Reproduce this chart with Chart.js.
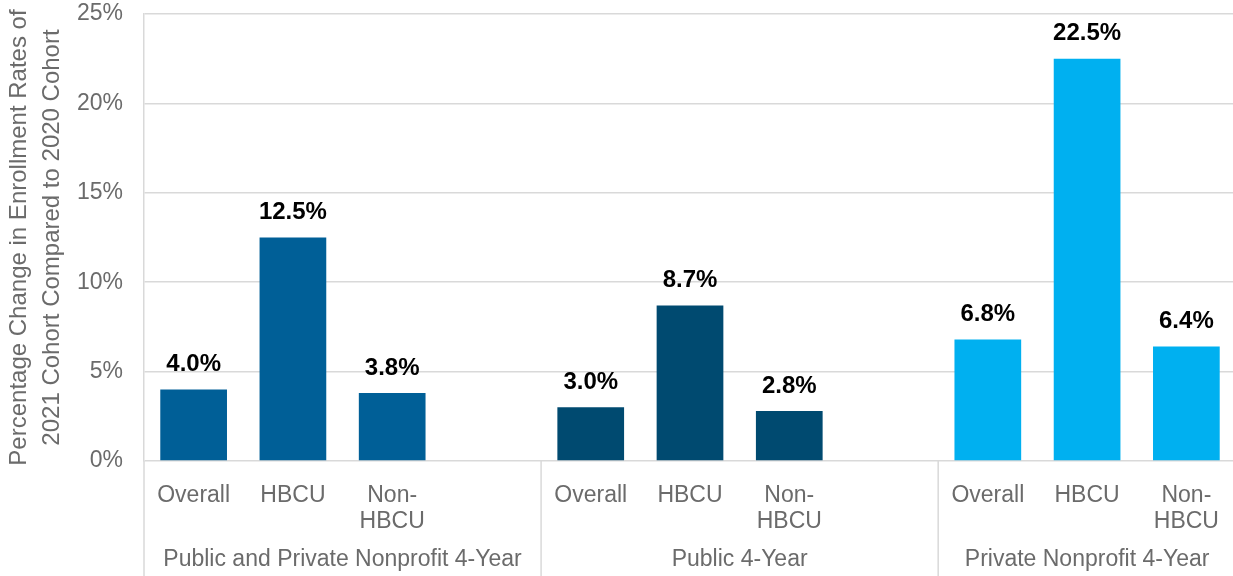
<!DOCTYPE html>
<html>
<head>
<meta charset="utf-8">
<script src="https://cdn.jsdelivr.net/npm/chart.js@4.4.1/dist/chart.umd.min.js"></script>
<style>
    html, body { margin: 0; padding: 0; background: #ffffff; overflow: hidden; }
    #enrollChart { display: block; }
</style>
</head>
<body>
<canvas id="enrollChart" width="1236" height="576"></canvas>
<script>
// institution groups and the bars inside each
const groups = ['Public and Private Nonprofit 4-Year', 'Public 4-Year', 'Private Nonprofit 4-Year'];
const subLabels = ['Overall', 'HBCU', ['Non-', 'HBCU']];

// percentage change, 2021 cohort vs 2020 cohort
const combinedValues = [4.0, 12.5, 3.8];
const publicValues = [3.0, 8.7, 2.8];
const privateValues = [6.8, 22.5, 6.4];

const yTicks = [0, 5, 10, 15, 20, 25];

const groupColors = ['#005F97', '#004A70', '#00B0F0'];
const fontFamily = '"Liberation Sans", Arial, sans-serif';
const grayText = '#6b6b6b';
const lineGray = '#d9d9d9';

// build the flat category axis: each group's bars, then a blank spacer (not after the last one)
let labels = [];
let data = [];
let colors = [];
let groupSlots = [];
[combinedValues, publicValues, privateValues].forEach((values, g) => {
    const start = labels.length;
    values.forEach((v, i) => {
        labels.push(subLabels[i]);
        data.push(v);
        colors.push(groupColors[g]);
    });
    if (g < groups.length - 1) {
        labels.push('');
        data.push(null);
        colors.push('rgba(0,0,0,0)');
    }
    groupSlots.push([start, labels.length - 1]);
});

// bold value labels over each bar
const valueLabelPlugin = {
    id: 'valueLabelPlugin',
    afterDatasetsDraw(chart) {
        const { ctx } = chart;
        const meta = chart.getDatasetMeta(0);
        ctx.save();
        ctx.font = 'bold 24px ' + fontFamily;
        ctx.fillStyle = '#000000';
        ctx.textAlign = 'center';
        ctx.textBaseline = 'middle';
        meta.data.forEach((bar, i) => {
            const v = data[i];
            if (v === null) return;
            ctx.fillText(v.toFixed(1) + '%', bar.x, bar.y - 25);
        });
        ctx.restore();
    }
};

// second level of the category axis: group names and divider lines
const groupAxisPlugin = {
    id: 'groupAxisPlugin',
    afterDraw(chart) {
        const { ctx, chartArea } = chart;
        const xScale = chart.scales.x;
        const half = (xScale.getPixelForValue(1) - xScale.getPixelForValue(0)) / 2;
        const bottom = chart.height;

        ctx.save();
        ctx.strokeStyle = lineGray;
        ctx.lineWidth = 1.5;
        // left axis continues down through the label rows
        ctx.beginPath();
        ctx.moveTo(chartArea.left, chartArea.bottom);
        ctx.lineTo(chartArea.left, bottom);
        ctx.stroke();

        ctx.font = '23px ' + fontFamily;
        ctx.fillStyle = grayText;
        ctx.textAlign = 'center';
        ctx.textBaseline = 'middle';
        groupSlots.forEach(([first, last], g) => {
            const left = xScale.getPixelForValue(first) - half;
            const right = xScale.getPixelForValue(last) + half;
            if (g > 0) {
                ctx.beginPath();
                ctx.moveTo(left, chartArea.bottom);
                ctx.lineTo(left, bottom);
                ctx.stroke();
            }
            ctx.fillText(groups[g], (left + right) / 2, 560);
        });
        ctx.restore();
    }
};

const ctx1 = document.querySelector('#enrollChart').getContext('2d');

new Chart(ctx1, {
    type: 'bar',
    data: {
        labels: labels,
        datasets: [{
            data: data,
            backgroundColor: colors,
            borderWidth: 0,
            categoryPercentage: 0.672,
            barPercentage: 1
        }]
    },
    options: {
        responsive: false,
        animation: false,
        devicePixelRatio: 1,
        layout: { padding: { top: 14, right: 0, bottom: 0, left: 0 } },
        plugins: {
            legend: { display: false },
            tooltip: { enabled: false }
        },
        scales: {
            x: {
                grid: { display: false },
                border: { display: false },
                ticks: {
                    color: grayText,
                    padding: 14,
                    maxRotation: 0,
                    autoSkip: false,
                    font: { family: fontFamily, size: 23, lineHeight: 1.13 }
                },
                afterFit(scale) {
                    scale.height = 115;
                    scale.paddingLeft = 0;
                    scale.paddingRight = 0;
                }
            },
            y: {
                min: 0,
                max: 25,
                afterBuildTicks(scale) {
                    scale.ticks = yTicks.map(v => ({ value: v }));
                },
                grid: { color: lineGray, lineWidth: 1.5, drawTicks: false },
                border: { display: true, color: lineGray, width: 1.5 },
                ticks: {
                    color: grayText,
                    padding: 21,
                    font: { family: fontFamily, size: 23 },
                    callback: v => v + '%'
                },
                title: {
                    display: true,
                    text: ['Percentage Change in Enrollment Rates of', '2021 Cohort Compared to 2020 Cohort'],
                    color: grayText,
                    padding: { top: 3, bottom: 0 },
                    font: { family: fontFamily, size: 24, lineHeight: '33px' }
                },
                afterFit(scale) {
                    scale.width = 144;
                    scale.paddingTop = 0;
                    scale.paddingBottom = 0;
                }
            }
        }
    },
    plugins: [valueLabelPlugin, groupAxisPlugin]
});
</script>
</body>
</html>
